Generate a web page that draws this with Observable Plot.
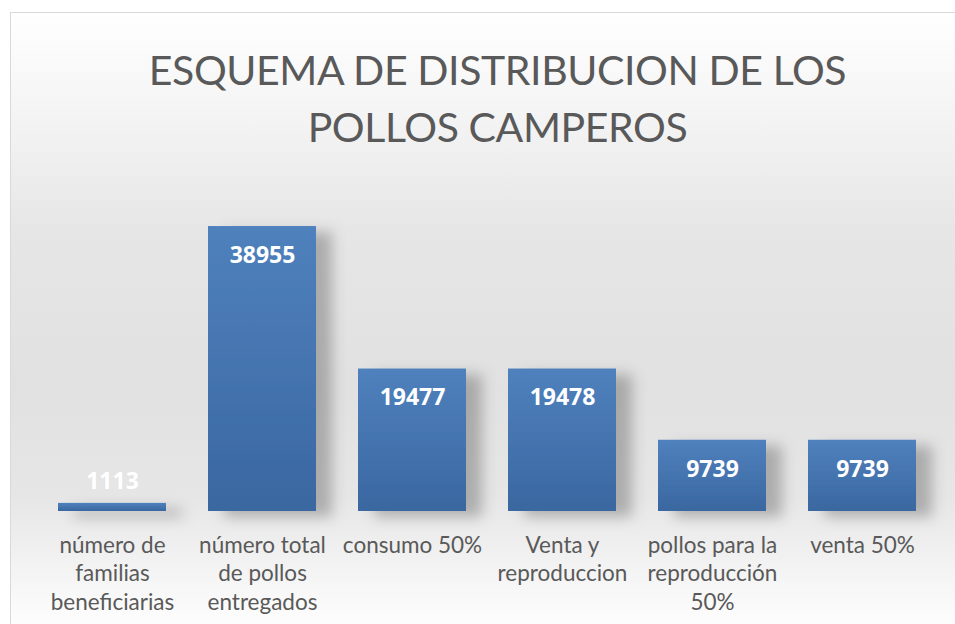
<!DOCTYPE html>
<html>
<head>
<meta charset="utf-8">
<script src="https://cdn.jsdelivr.net/npm/d3@7"></script>
<script src="https://cdn.jsdelivr.net/npm/@observablehq/plot@0.6"></script>
<style>
  html, body { margin: 0; padding: 0; width: 955px; height: 624px; overflow: hidden; background: #fff; }
  #frame {
    position: absolute; left: 10px; top: 12px; width: 960px; height: 620px;
    border-top: 1px solid #d9d9d9; border-left: 1px solid #d9d9d9;
    background: linear-gradient(to bottom, #ffffff 0%, #f3f3f3 18%, #e6e6e6 35%, #e1e1e1 60%, #e6e6e6 78%, #f6f6f6 92%, #ffffff 100%);
  }
  #title {
    position: absolute; left: 0; top: 41px; width: 995px; text-align: center;
    font-family: Lato, "Open Sans", sans-serif; font-weight: 400; font-size: 41px;
    line-height: 57px; color: #595959; letter-spacing: -0.4px;
  }
  #chart { position: absolute; left: 0; top: 180px; }
</style>
</head>
<body>
<div id="frame"></div>
<div id="title">ESQUEMA DE DISTRIBUCION DE LOS<br>POLLOS CAMPEROS</div>
<div id="chart"></div>
<script>
const categories = [
  "número de familias beneficiarias",
  "número total de pollos entregados",
  "consumo 50%",
  "Venta y reproduccion",
  "pollos para la reproducción 50%",
  "venta 50%"
];
const values = [1113, 38955, 19477, 19478, 9739, 9739];
const tickLabels = [
  "número de\nfamilias\nbeneficiarias",
  "número total\nde pollos\nentregados",
  "consumo 50%",
  "Venta y\nreproduccion",
  "pollos para la\nreproducción\n50%",
  "venta 50%"
];

const data = categories.map((c, i) => ({ category: c, value: values[i] }));

const chart = Plot.plot({
  width: 955,
  height: 444,
  marginLeft: 36,
  marginRight: 17.5,
  marginTop: 38.4,
  marginBottom: 113,
  style: { background: "transparent", fontFamily: "Lato, 'Open Sans', sans-serif", overflow: "visible" },
  x: { domain: categories, paddingInner: 0.283, paddingOuter: 0.1415, align: 0.5, label: null },
  y: { domain: [0, 40000], axis: null },
  marks: [
    Plot.barY(data, { x: "category", y: "value", fill: "url(#barGrad)" }),
    Plot.text(data, {
      x: "category",
      y: d => Math.max(d.value, 8000),
      text: d => String(d.value),
      lineAnchor: "top",
      dy: 20,
      fill: "white",
      fontSize: 23,
      fontWeight: "bold",
      fontFamily: "'Open Sans', sans-serif"
    }),
    Plot.axisX({
      tickSize: 0,
      tickPadding: 21,
      fontSize: 22.5,
      lineHeight: 1.267,
      tickFormat: (d) => tickLabels[categories.indexOf(d)],
      color: "#595959",
      label: null
    })
  ]
});

// gradient and shadow definitions
const svg = d3.select(chart);
const defs = svg.insert("defs", ":first-child");
const g = defs.append("linearGradient").attr("id", "barGrad").attr("x1", 0).attr("y1", 0).attr("x2", 0).attr("y2", 1);
g.append("stop").attr("offset", "0%").attr("stop-color", "#4f81bd");
g.append("stop").attr("offset", "100%").attr("stop-color", "#3a67a0");
const f = defs.append("filter").attr("id", "barShadow").attr("x", "-20%").attr("y", "-20%").attr("width", "170%").attr("height", "140%");
f.append("feDropShadow").attr("dx", 16).attr("dy", 6).attr("stdDeviation", 7).attr("flood-color", "#000").attr("flood-opacity", 0.25);
svg.select("g[aria-label='bar']").attr("filter", "url(#barShadow)");

document.getElementById("chart").appendChild(chart);
</script>
</body>
</html>
